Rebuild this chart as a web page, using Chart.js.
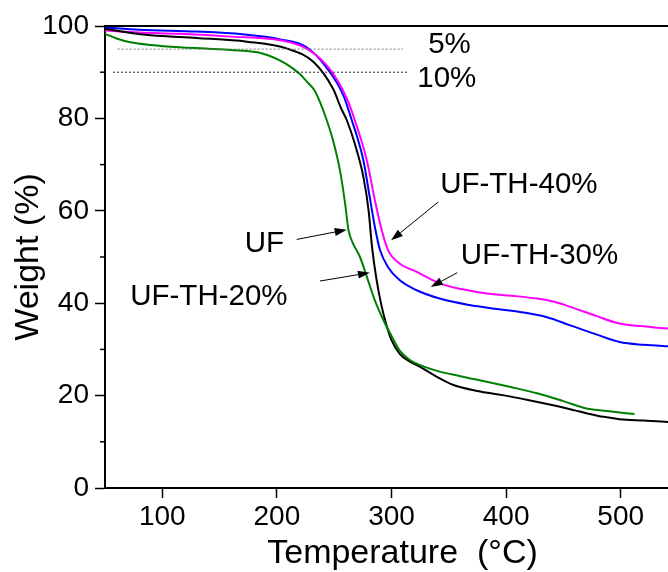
<!DOCTYPE html>
<html>
<head>
<meta charset="utf-8">
<script src="https://cdn.jsdelivr.net/npm/chart.js@4.4.0/dist/chart.umd.min.js"></script>
<style>
html, body { margin: 0; padding: 0; background: #fff; width: 668px; height: 572px; overflow: hidden; }
#wrap { width: 700px; height: 572px; }
</style>
</head>
<body>
<div id="wrap"><canvas id="myChart" width="700" height="572"></canvas></div>
<script>
// TGA curves: temperature (°C) and weight (%)
const ufTemp = [50, 60, 72, 90, 115, 140, 160, 188, 208, 220, 226, 233, 238, 243.5, 249, 255, 259.5, 262.5, 266.5, 272.5, 278.5, 285.5, 293, 299, 307, 316, 325, 339, 360, 383, 405, 427, 450, 470, 490, 512]
const ufWeight = [98.3, 97.3, 96.5, 95.9, 95.4, 95.1, 94.8, 94.0, 91.8, 89.6, 88.0, 86.0, 83.3, 79.6, 75.2, 68.8, 61.6, 55.8, 52.9, 50.0, 45.7, 40.6, 36.3, 33.4, 29.8, 27.7, 26.6, 25.4, 24.2, 23.0, 21.8, 20.5, 18.8, 17.2, 16.6, 16.0]

const th20Temp = [50, 70, 90, 130, 174, 209, 232, 249, 256, 261, 268, 275.5, 280, 283, 287, 291.5, 296, 300, 307, 315, 325, 340, 354, 375, 397, 420, 441, 460, 470, 485, 499, 520, 541, 569]
const th20Weight = [99.4, 98.6, 98.0, 97.4, 96.6, 95.1, 92.2, 86.4, 82.2, 79.6, 74.5, 67.3, 60.1, 52.2, 45.0, 39.2, 34.9, 32.0, 29.1, 27.5, 26.2, 24.0, 22.3, 21.0, 20.1, 19.0, 17.9, 16.8, 16.2, 15.4, 14.9, 14.6, 14.3, 14.1]

const th30Temp = [50, 80, 130, 170, 203, 226, 243, 258, 265.5, 270.5, 275.5, 281, 285.5, 290, 297, 307, 322, 342, 368, 390, 412, 435, 456, 478, 499, 520, 541, 569]
const th30Weight = [99.7, 99.2, 98.8, 98.2, 97.1, 95.4, 91.1, 85.0, 79.5, 75.6, 70.9, 63.0, 56.5, 51.5, 47.8, 45.0, 42.8, 41.0, 39.6, 38.8, 38.1, 37.0, 35.2, 33.3, 31.6, 31.0, 30.7, 30.4]

const th40Temp = [50, 80, 115, 160, 203, 226, 246, 261, 268, 278.5, 285.5, 291.5, 297, 307, 322, 342, 362, 383, 405, 427, 442, 456, 478, 499, 520, 541, 569]
const th40Weight = [99.0, 98.6, 98.3, 97.7, 96.9, 95.1, 90.7, 84.3, 79.6, 70.9, 62.3, 55.8, 51.5, 48.6, 46.8, 44.3, 43.0, 42.1, 41.6, 41.0, 40.3, 39.2, 37.3, 35.6, 35.0, 34.5, 34.3]

// 5% and 10% weight-loss guide lines
const loss5Temp = [61, 310]
const loss5Weight = [95, 95]
const loss10Temp = [57, 315]
const loss10Weight = [90, 90]

const xTicks = [100, 200, 300, 400, 500]
const yTicks = [0, 20, 40, 60, 80, 100]
const yMinorTicks = [10, 30, 50, 70, 90]

// text notes and arrows, in data units
const notes = [
    {text: '5%', t: 332, w: 96.0},
    {text: '10%', t: 322.5, w: 88.6},
    {text: 'UF-TH-40%', t: 342.5, w: 65.7},
    {text: 'UF-TH-30%', t: 360.5, w: 50.2},
    {text: 'UF', t: 172, w: 52.8},
    {text: 'UF-TH-20%', t: 72, w: 41.3}
]
const arrows = [
    {t0: 217.3, w0: 53.8, t1: 260.9, w1: 55.9},
    {t0: 237.6, w0: 44.8, t1: 281.2, w1: 46.6},
    {t0: 340.8, w0: 61.9, t1: 299.6, w1: 53.6},
    {t0: 357.4, w0: 46.6, t1: 334.2, w1: 43.5}
]

const FONT = '"Liberation Sans", Arial, sans-serif'

const toPoints = (ts, ws) => ts.map((t, i) => ({x: t, y: ws[i]}))

const curve = (label, ts, ws, color) => ({
    label: label,
    data: toPoints(ts, ws),
    borderColor: color,
    borderWidth: 2,
    pointRadius: 0,
    fill: false,
    cubicInterpolationMode: 'monotone'
})

const guide = (label, ts, ws, color) => ({
    label: label,
    data: toPoints(ts, ws),
    borderColor: color,
    borderWidth: 1,
    borderDash: [2, 2],
    pointRadius: 0,
    fill: false
})

const drawArrow = (ctx, x0, y0, x1, y1) => {
    const ang = Math.atan2(y1 - y0, x1 - x0)
    const len = 12
    const half = 4
    const bx = x1 - len * Math.cos(ang)
    const by = y1 - len * Math.sin(ang)
    ctx.beginPath()
    ctx.moveTo(x0, y0)
    ctx.lineTo(bx, by)
    ctx.stroke()
    ctx.beginPath()
    ctx.moveTo(x1, y1)
    ctx.lineTo(bx + half * Math.sin(ang), by - half * Math.cos(ang))
    ctx.lineTo(bx - half * Math.sin(ang), by + half * Math.cos(ang))
    ctx.closePath()
    ctx.fill()
}

const decor = {
    id: 'decor',
    afterDraw(chart) {
        const {ctx, chartArea} = chart
        const x = chart.scales.x
        const y = chart.scales.y
        ctx.save()
        ctx.strokeStyle = '#000'
        ctx.fillStyle = '#000'
        // top frame
        ctx.lineWidth = 2
        ctx.beginPath()
        ctx.moveTo(chartArea.left, chartArea.top)
        ctx.lineTo(chartArea.right, chartArea.top)
        ctx.stroke()
        // minor ticks on the weight axis
        ctx.lineWidth = 1.5
        yMinorTicks.forEach(v => {
            const py = y.getPixelForValue(v)
            ctx.beginPath()
            ctx.moveTo(chartArea.left - 5, py)
            ctx.lineTo(chartArea.left, py)
            ctx.stroke()
        })
        // notes
        ctx.font = '29.5px ' + FONT
        ctx.textAlign = 'left'
        ctx.textBaseline = 'middle'
        notes.forEach(n => ctx.fillText(n.text, x.getPixelForValue(n.t), y.getPixelForValue(n.w)))
        // arrows
        ctx.lineWidth = 1
        arrows.forEach(a => drawArrow(ctx,
            x.getPixelForValue(a.t0), y.getPixelForValue(a.w0),
            x.getPixelForValue(a.t1), y.getPixelForValue(a.w1)))
        ctx.restore()
    }
}

new Chart(document.getElementById('myChart'), {
    type: 'line',
    data: {
        datasets: [
            guide('5%', loss5Temp, loss5Weight, '#777'),
            guide('10%', loss10Temp, loss10Weight, '#222'),
            curve('UF', ufTemp, ufWeight, '#008000'),
            curve('UF-TH-20%', th20Temp, th20Weight, '#000000'),
            curve('UF-TH-40%', th40Temp, th40Weight, '#ff00ff'),
            curve('UF-TH-30%', th30Temp, th30Weight, '#0000ff')
        ]
    },
    options: {
        responsive: false,
        animation: false,
        devicePixelRatio: 1,
        layout: {padding: {top: 26, left: 0, right: 0, bottom: 0}},
        plugins: {legend: {display: false}, tooltip: {enabled: false}},
        scales: {
            x: {
                type: 'linear',
                min: 50,
                max: 569.2,
                afterBuildTicks: s => { s.ticks = xTicks.map(v => ({value: v})) },
                afterFit: s => { s.height = 84 },
                grid: {drawOnChartArea: false, tickLength: 10, tickWidth: 1.5, tickColor: '#000'},
                border: {color: '#000', width: 2},
                ticks: {color: '#000', padding: 2, maxRotation: 0, font: {family: FONT, size: 28}},
                title: {display: true, text: 'Temperature  (°C)', color: '#000', padding: {top: 0, bottom: 1}, font: {family: FONT, size: 34, lineHeight: 1}}
            },
            y: {
                min: 0,
                max: 100,
                afterBuildTicks: s => { s.ticks = yTicks.map(v => ({value: v})) },
                afterFit: s => { s.width = 105 },
                grid: {drawOnChartArea: false, tickLength: 10, tickWidth: 1.5, tickColor: '#000'},
                border: {color: '#000', width: 2},
                ticks: {color: '#000', padding: 6, font: {family: FONT, size: 28}},
                title: {display: true, text: 'Weight (%)', color: '#000', padding: {top: 12, bottom: 0}, font: {family: FONT, size: 34, lineHeight: 1}}
            }
        }
    },
    plugins: [decor]
})
</script>
</body>
</html>
